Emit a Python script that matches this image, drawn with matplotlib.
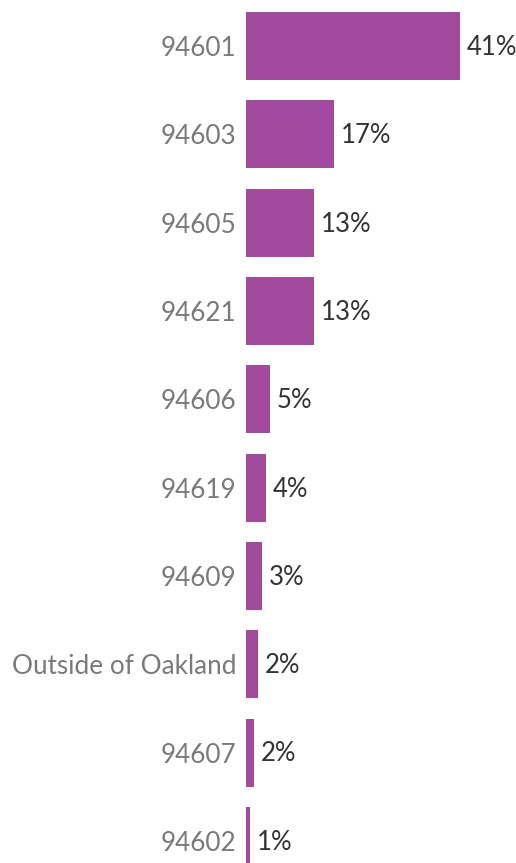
import matplotlib
matplotlib.use("Agg")
import matplotlib.pyplot as plt

zips = ["94601", "94603", "94605", "94621", "94606", "94619",
        "94609", "Outside of Oakland", "94607", "94602"]
shares = [41.0, 16.9, 13.0, 13.0, 4.6, 3.8, 3.1, 2.3, 1.5, 0.8]
labels = ["41%", "17%", "13%", "13%", "5%", "4%", "3%", "2%", "2%", "1%"]

BAR_COLOR = "#a24a9e"
plt.rcParams["font.family"] = ["Lato", "DejaVu Sans"]

fig = plt.figure(figsize=(5.16, 8.63), dpi=100)
ax = fig.add_axes([246 / 516, 0, 266 / 516, 1])

pos = list(range(len(zips)))
ax.barh(pos, shares, height=0.77, color=BAR_COLOR)

for y, v, lab in zip(pos, shares, labels):
    ax.annotate(lab, (v, y), xytext=(5, -1), textcoords="offset points",
                ha="left", va="center", fontsize=18.5, color="#333333")

ax.set_xlim(0, 51)
ax.set_ylim(9.25, -0.521)
ax.set_yticks(pos)
ax.set_yticklabels(zips, fontsize=18.8, color="#7a7a7a")
ax.tick_params(axis="y", length=0, pad=7)
ax.set_xticks([])
for s in ax.spines.values():
    s.set_visible(False)

fig.savefig("out.png", dpi=100)
